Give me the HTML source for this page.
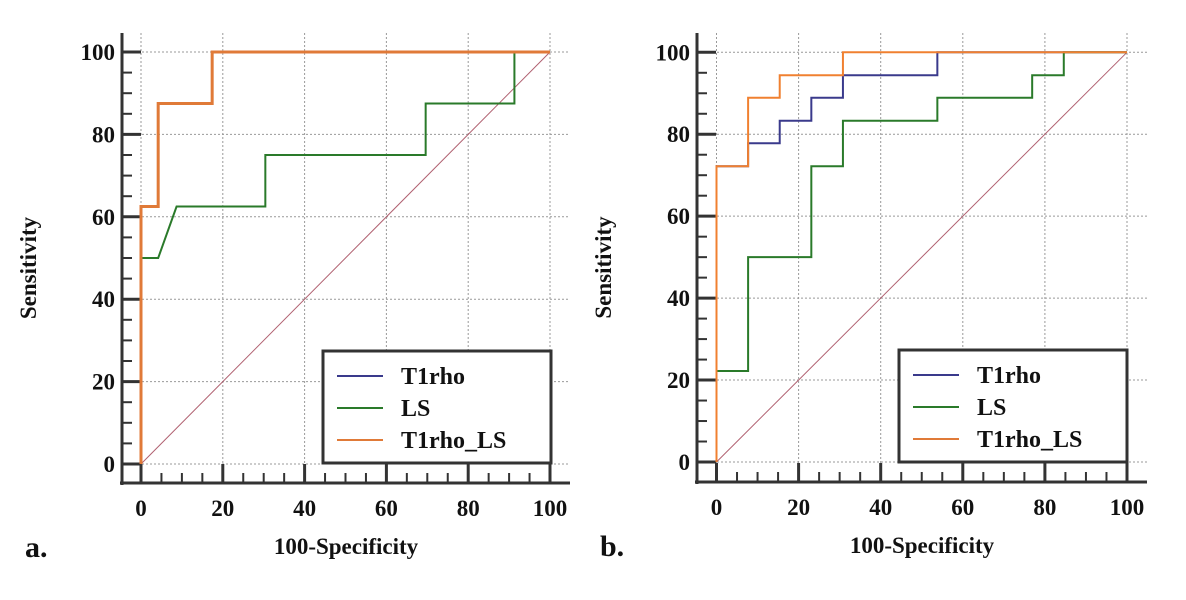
<!DOCTYPE html>
<html><head><meta charset="utf-8"><style>
body{margin:0;background:#fff}
svg text{font-family:"Liberation Serif",serif;font-weight:bold;fill:#111}
</style></head><body>
<svg id="s" width="1186" height="595" viewBox="0 0 1186 595" xmlns="http://www.w3.org/2000/svg"></svg>
<script>
// Panel a data
const aT1rhoX=[0,0,4.2,4.2,17.4,17.4,100];
const aT1rhoY=[0,62.5,62.5,87.5,87.5,100,100];
const aLsX=[0,0,4.2,8.7,30.4,30.4,69.6,69.6,91.3,91.3,100];
const aLsY=[0,50,50,62.5,62.5,75,75,87.5,87.5,100,100];
const aComboX=[0,0,4.2,4.2,17.4,17.4,100];
const aComboY=[0,62.5,62.5,87.5,87.5,100,100];
// Panel b data
const bT1rhoX=[0,0,7.7,7.7,15.4,15.4,23.1,23.1,30.8,30.8,53.8,53.8,100];
const bT1rhoY=[0,72.2,72.2,77.8,77.8,83.3,83.3,88.9,88.9,94.4,94.4,100,100];
const bLsX=[0,0,7.7,7.7,23.1,23.1,30.8,30.8,53.8,53.8,76.9,76.9,84.6,84.6,100];
const bLsY=[0,22.2,22.2,50,50,72.2,72.2,83.3,83.3,88.9,88.9,94.4,94.4,100,100];
const bComboX=[0,0,7.7,7.7,15.4,15.4,30.8,30.8,100];
const bComboY=[0,72.2,72.2,88.9,88.9,94.4,94.4,100,100];
const tickLabels=[0,20,40,60,80,100];
const legendNames=["T1rho","LS","T1rho_LS"];

const svg=document.getElementById('s');
const NS="http://www.w3.org/2000/svg";
function el(t,a,p){const e=document.createElementNS(NS,t);for(const k in a)e.setAttribute(k,a[k]);(p||svg).appendChild(e);return e;}

function panel(id,x0,x100,y0,y100,axX,axY,right,top,series,letter,leg){
  const g=el('g',{});
  
  
  const sx=v=>x0+(x100-x0)*v/100, sy=v=>y0+(y100-y0)*v/100;
  tickLabels.forEach(t=>{
    const gl=el('line',{x1:sx(t),x2:sx(t),y1:top,y2:axY,stroke:'#999','stroke-dasharray':'2,2','stroke-width':1},g);
    
    
    const hl=el('line',{x1:axX,x2:right,y1:sy(t),y2:sy(t),stroke:'#999','stroke-dasharray':'2,2','stroke-width':1},g);
    
    
  });
  const ya=el('line',{x1:axX,x2:axX,y1:top,y2:axY+2,stroke:'#333','stroke-width':3},g);
  
  
  const xa=el('line',{x1:axX-2,x2:right,y1:axY,y2:axY,stroke:'#333','stroke-width':3},g);
  
  
  for(let v=0;v<=100;v+=5){
    const maj=v%20===0;
    el('line',{x1:axX,x2:axX+(maj?19:10),y1:sy(v),y2:sy(v),stroke:'#333','stroke-width':maj?3:2},g);
    el('line',{x1:sx(v),x2:sx(v),y1:axY,y2:axY-(maj?19:10),stroke:'#333','stroke-width':maj?3:2},g);
  }
  tickLabels.forEach(t=>{
    const a=el('text',{x:axX-7,y:sy(t)+8,'text-anchor':'end','font-size':23},g);a.textContent=t;
    
    
    const b=el('text',{x:sx(t),y:axY+33,'text-anchor':'middle','font-size':23},g);b.textContent=t;
    
    
  });
  const yt=el('text',{x:0,y:0,transform:`translate(${axX-86},${(top+axY)/2+10}) rotate(-90)`,'text-anchor':'middle','font-size':23},g);
  yt.textContent='Sensitivity';
  
  
  const xt=el('text',{x:(axX+right)/2,y:axY+71,'text-anchor':'middle','font-size':23},g);
  xt.textContent='100-Specificity';
  
  
  const lt=el('text',{x:axX-97,y:axY+74,'font-size':30},g);
  lt.textContent=letter;
  
  
  const d=el('line',{x1:sx(0),y1:sy(0),x2:sx(100),y2:sy(100),stroke:'#b06070','stroke-width':1},g);
  
  
  series.forEach(s=>{
    const pts=s.x.map((v,i)=>sx(v)+','+sy(s.y[i])).join(' ');
    const p=el('polyline',{points:pts,fill:'none',stroke:s.c,'stroke-width':s.w},g);
    
    
  });
  const lg=el('g',{},g);
  
  
  el('rect',{x:leg[0],y:leg[1],width:leg[2],height:leg[3],fill:'#fff',stroke:'#333','stroke-width':3},lg);
  const cols=['#3a3a8c','#2a7a2a','#e07a38'];
  legendNames.forEach((n,i)=>{
    const yy=leg[1]+25+i*32;
    el('line',{x1:leg[0]+14,x2:leg[0]+60,y1:yy,y2:yy,stroke:cols[i],'stroke-width':2},lg);
    const t=el('text',{x:leg[0]+78,y:yy+8,'font-size':24},lg);t.textContent=n;
    
    
  });
}
panel('a',141,550,464,52,122,483,570,33,[
  {n:'t1rho',x:aT1rhoX,y:aT1rhoY,c:'#3a3a8c',w:2},
  {n:'ls',x:aLsX,y:aLsY,c:'#2a7a2a',w:2},
  {n:'t1rho-ls',x:aComboX,y:aComboY,c:'#e07a38',w:3}],'a.',[323,351,228,112]);
panel('b',716.5,1127,462,52.3,697,482,1147,33,[
  {n:'t1rho',x:bT1rhoX,y:bT1rhoY,c:'#3a3a8c',w:2},
  {n:'ls',x:bLsX,y:bLsY,c:'#2a7a2a',w:2},
  {n:'t1rho-ls',x:bComboX,y:bComboY,c:'#f08030',w:2}],'b.',[899,350,228,112]);
</script>
</body></html>
